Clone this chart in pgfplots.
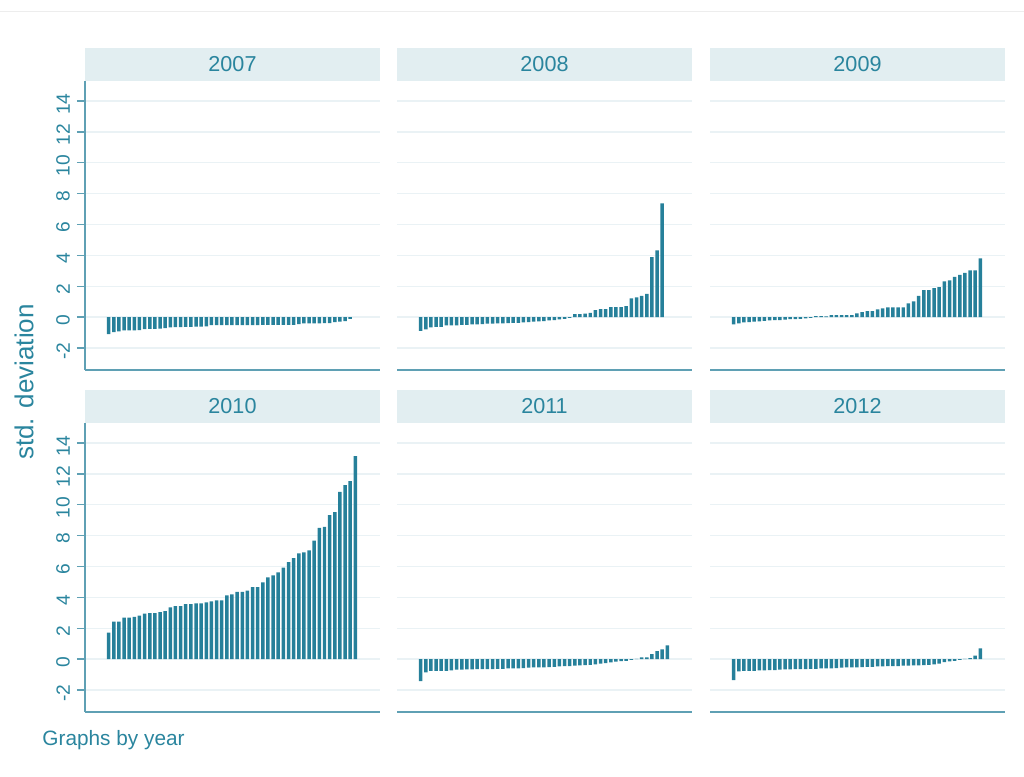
\documentclass[border=0pt]{standalone}
\usepackage{pgfplots}
\pgfplotsset{compat=1.18}
\usepackage{pgfplotstable}
\usepackage{fontspec}
\setmainfont{Liberation Sans}

\definecolor{barcol}{RGB}{38,128,154}
\definecolor{textcol}{RGB}{42,133,158}
\definecolor{hdrcol}{RGB}{226,238,241}
\definecolor{axiscol}{RGB}{95,160,180}
\definecolor{gridcol}{RGB}{234,242,245}

% one value per bar, sorted as in the panels
\pgfplotstableread{
v
-1.10
-0.97
-0.93
-0.86
-0.86
-0.86
-0.84
-0.78
-0.76
-0.76
-0.75
-0.71
-0.67
-0.65
-0.65
-0.63
-0.63
-0.62
-0.62
-0.60
-0.52
-0.52
-0.52
-0.52
-0.52
-0.52
-0.52
-0.52
-0.52
-0.52
-0.50
-0.50
-0.50
-0.50
-0.50
-0.50
-0.50
-0.45
-0.41
-0.41
-0.41
-0.41
-0.39
-0.39
-0.32
-0.30
-0.26
-0.11
}\yrA

\pgfplotstableread{
v
-0.89
-0.80
-0.67
-0.63
-0.63
-0.54
-0.54
-0.54
-0.50
-0.50
-0.48
-0.48
-0.45
-0.43
-0.43
-0.41
-0.41
-0.39
-0.37
-0.37
-0.35
-0.33
-0.30
-0.28
-0.26
-0.22
-0.19
-0.15
-0.11
-0.06
0.19
0.19
0.22
0.28
0.45
0.52
0.52
0.65
0.65
0.65
0.71
1.21
1.27
1.38
1.51
3.89
4.32
7.37
}\yrB

\pgfplotstableread{
v
-0.48
-0.41
-0.35
-0.32
-0.30
-0.28
-0.24
-0.22
-0.19
-0.19
-0.17
-0.13
-0.13
-0.11
-0.09
-0.06
0.06
0.06
0.05
0.13
0.13
0.13
0.13
0.13
0.24
0.32
0.39
0.39
0.50
0.56
0.63
0.63
0.63
0.63
0.89
1.02
1.38
1.75
1.75
1.88
1.94
2.31
2.38
2.61
2.74
2.87
3.02
3.02
3.80
}\yrC

\pgfplotstableread{
v
1.71
2.42
2.42
2.68
2.68
2.74
2.81
2.94
2.98
2.98
3.05
3.11
3.35
3.43
3.43
3.56
3.56
3.61
3.61
3.67
3.74
3.80
3.80
4.13
4.19
4.36
4.36
4.43
4.67
4.67
4.97
5.29
5.42
5.62
5.92
6.29
6.54
6.85
6.91
7.04
7.67
8.51
8.57
9.33
9.52
10.84
11.27
11.53
13.15
}\yrD

\pgfplotstableread{
v
-1.43
-0.86
-0.76
-0.76
-0.76
-0.76
-0.73
-0.69
-0.69
-0.67
-0.67
-0.65
-0.65
-0.65
-0.65
-0.63
-0.63
-0.61
-0.61
-0.61
-0.58
-0.56
-0.54
-0.54
-0.54
-0.52
-0.50
-0.48
-0.45
-0.45
-0.43
-0.41
-0.39
-0.37
-0.35
-0.30
-0.26
-0.22
-0.17
-0.13
-0.11
-0.06
0.02
0.11
0.11
0.32
0.52
0.63
0.89
}\yrE

\pgfplotstableread{
v
-1.36
-0.80
-0.76
-0.76
-0.76
-0.73
-0.73
-0.71
-0.71
-0.69
-0.67
-0.67
-0.65
-0.65
-0.65
-0.63
-0.63
-0.61
-0.61
-0.61
-0.58
-0.56
-0.54
-0.54
-0.54
-0.52
-0.50
-0.50
-0.48
-0.48
-0.45
-0.45
-0.45
-0.43
-0.43
-0.41
-0.41
-0.39
-0.37
-0.35
-0.30
-0.19
-0.15
-0.11
-0.06
0.02
0.06
0.22
0.69
}\yrF

\pgfplotsset{
  panel/.style={
    scale only axis, width=147.5pt, height=144.5pt, anchor=south west,
    xmin=-3.6, xmax=53.8, ymin=-3.43, ymax=15.3,
    axis x line*=bottom, axis y line*=left,
    axis line style={-, draw=axiscol, line width=0.6pt},
    xtick=\empty, ytick={-2,0,...,14},
    tick align=outside, major tick length=4pt,
    ytick style={draw=axiscol, line width=0.6pt},
    ymajorgrids, major grid style={draw=gridcol, line width=0.6pt},
    yticklabel style={rotate=90, anchor=south, text=textcol, xshift=-1.5pt,
      font=\fontsize{9.6}{10}\selectfont},
    /pgf/number format/assume math mode=true,
    clip=false,
  },
  inner/.style={
    y axis line style={draw=none}, ytick style={draw=none},
    yticklabels={},
  },
  bars/.style={ybar, bar width=0.68, fill=barcol, draw=none},
}

\newcommand{\header}[1]{%
  \fill[hdrcol] (rel axis cs:0,1) rectangle ([yshift=16.5pt]rel axis cs:1,1);
  \node[text=textcol, font=\fontsize{10.8}{12}\selectfont]
    at ([yshift=8.25pt]rel axis cs:0.5,1) {#1};
}

\begin{document}
\begin{tikzpicture}
\path[use as bounding box] (0,0) rectangle (512pt,388.5pt);
\draw[black!7, line width=0.5pt] (0,382.5pt) -- (512pt,382.5pt);

\begin{axis}[panel, at={(42.5pt,203.5pt)}]
  \addplot[bars] table[x expr=\coordindex+1, y=v] {\yrA};
  \header{2007}
\end{axis}
\begin{axis}[panel, inner, at={(198.5pt,203.5pt)}]
  \addplot[bars] table[x expr=\coordindex+1, y=v] {\yrB};
  \header{2008}
\end{axis}
\begin{axis}[panel, inner, at={(355pt,203.5pt)}]
  \addplot[bars] table[x expr=\coordindex+1, y=v] {\yrC};
  \header{2009}
\end{axis}

\begin{axis}[panel, at={(42.5pt,32.5pt)}]
  \addplot[bars] table[x expr=\coordindex+1, y=v] {\yrD};
  \header{2010}
\end{axis}
\begin{axis}[panel, inner, at={(198.5pt,32.5pt)}]
  \addplot[bars] table[x expr=\coordindex+1, y=v] {\yrE};
  \header{2011}
\end{axis}
\begin{axis}[panel, inner, at={(355pt,32.5pt)}]
  \addplot[bars] table[x expr=\coordindex+1, y=v] {\yrF};
  \header{2012}
\end{axis}

\node[rotate=90, text=textcol, font=\fontsize{13}{14}\selectfont]
  at (12pt,197.5pt) {std. deviation};
\node[anchor=base west, inner sep=0pt, text=textcol, font=\fontsize{10.4}{12}\selectfont]
  at (21pt,15.5pt) {Graphs by year};
\end{tikzpicture}
\end{document}
